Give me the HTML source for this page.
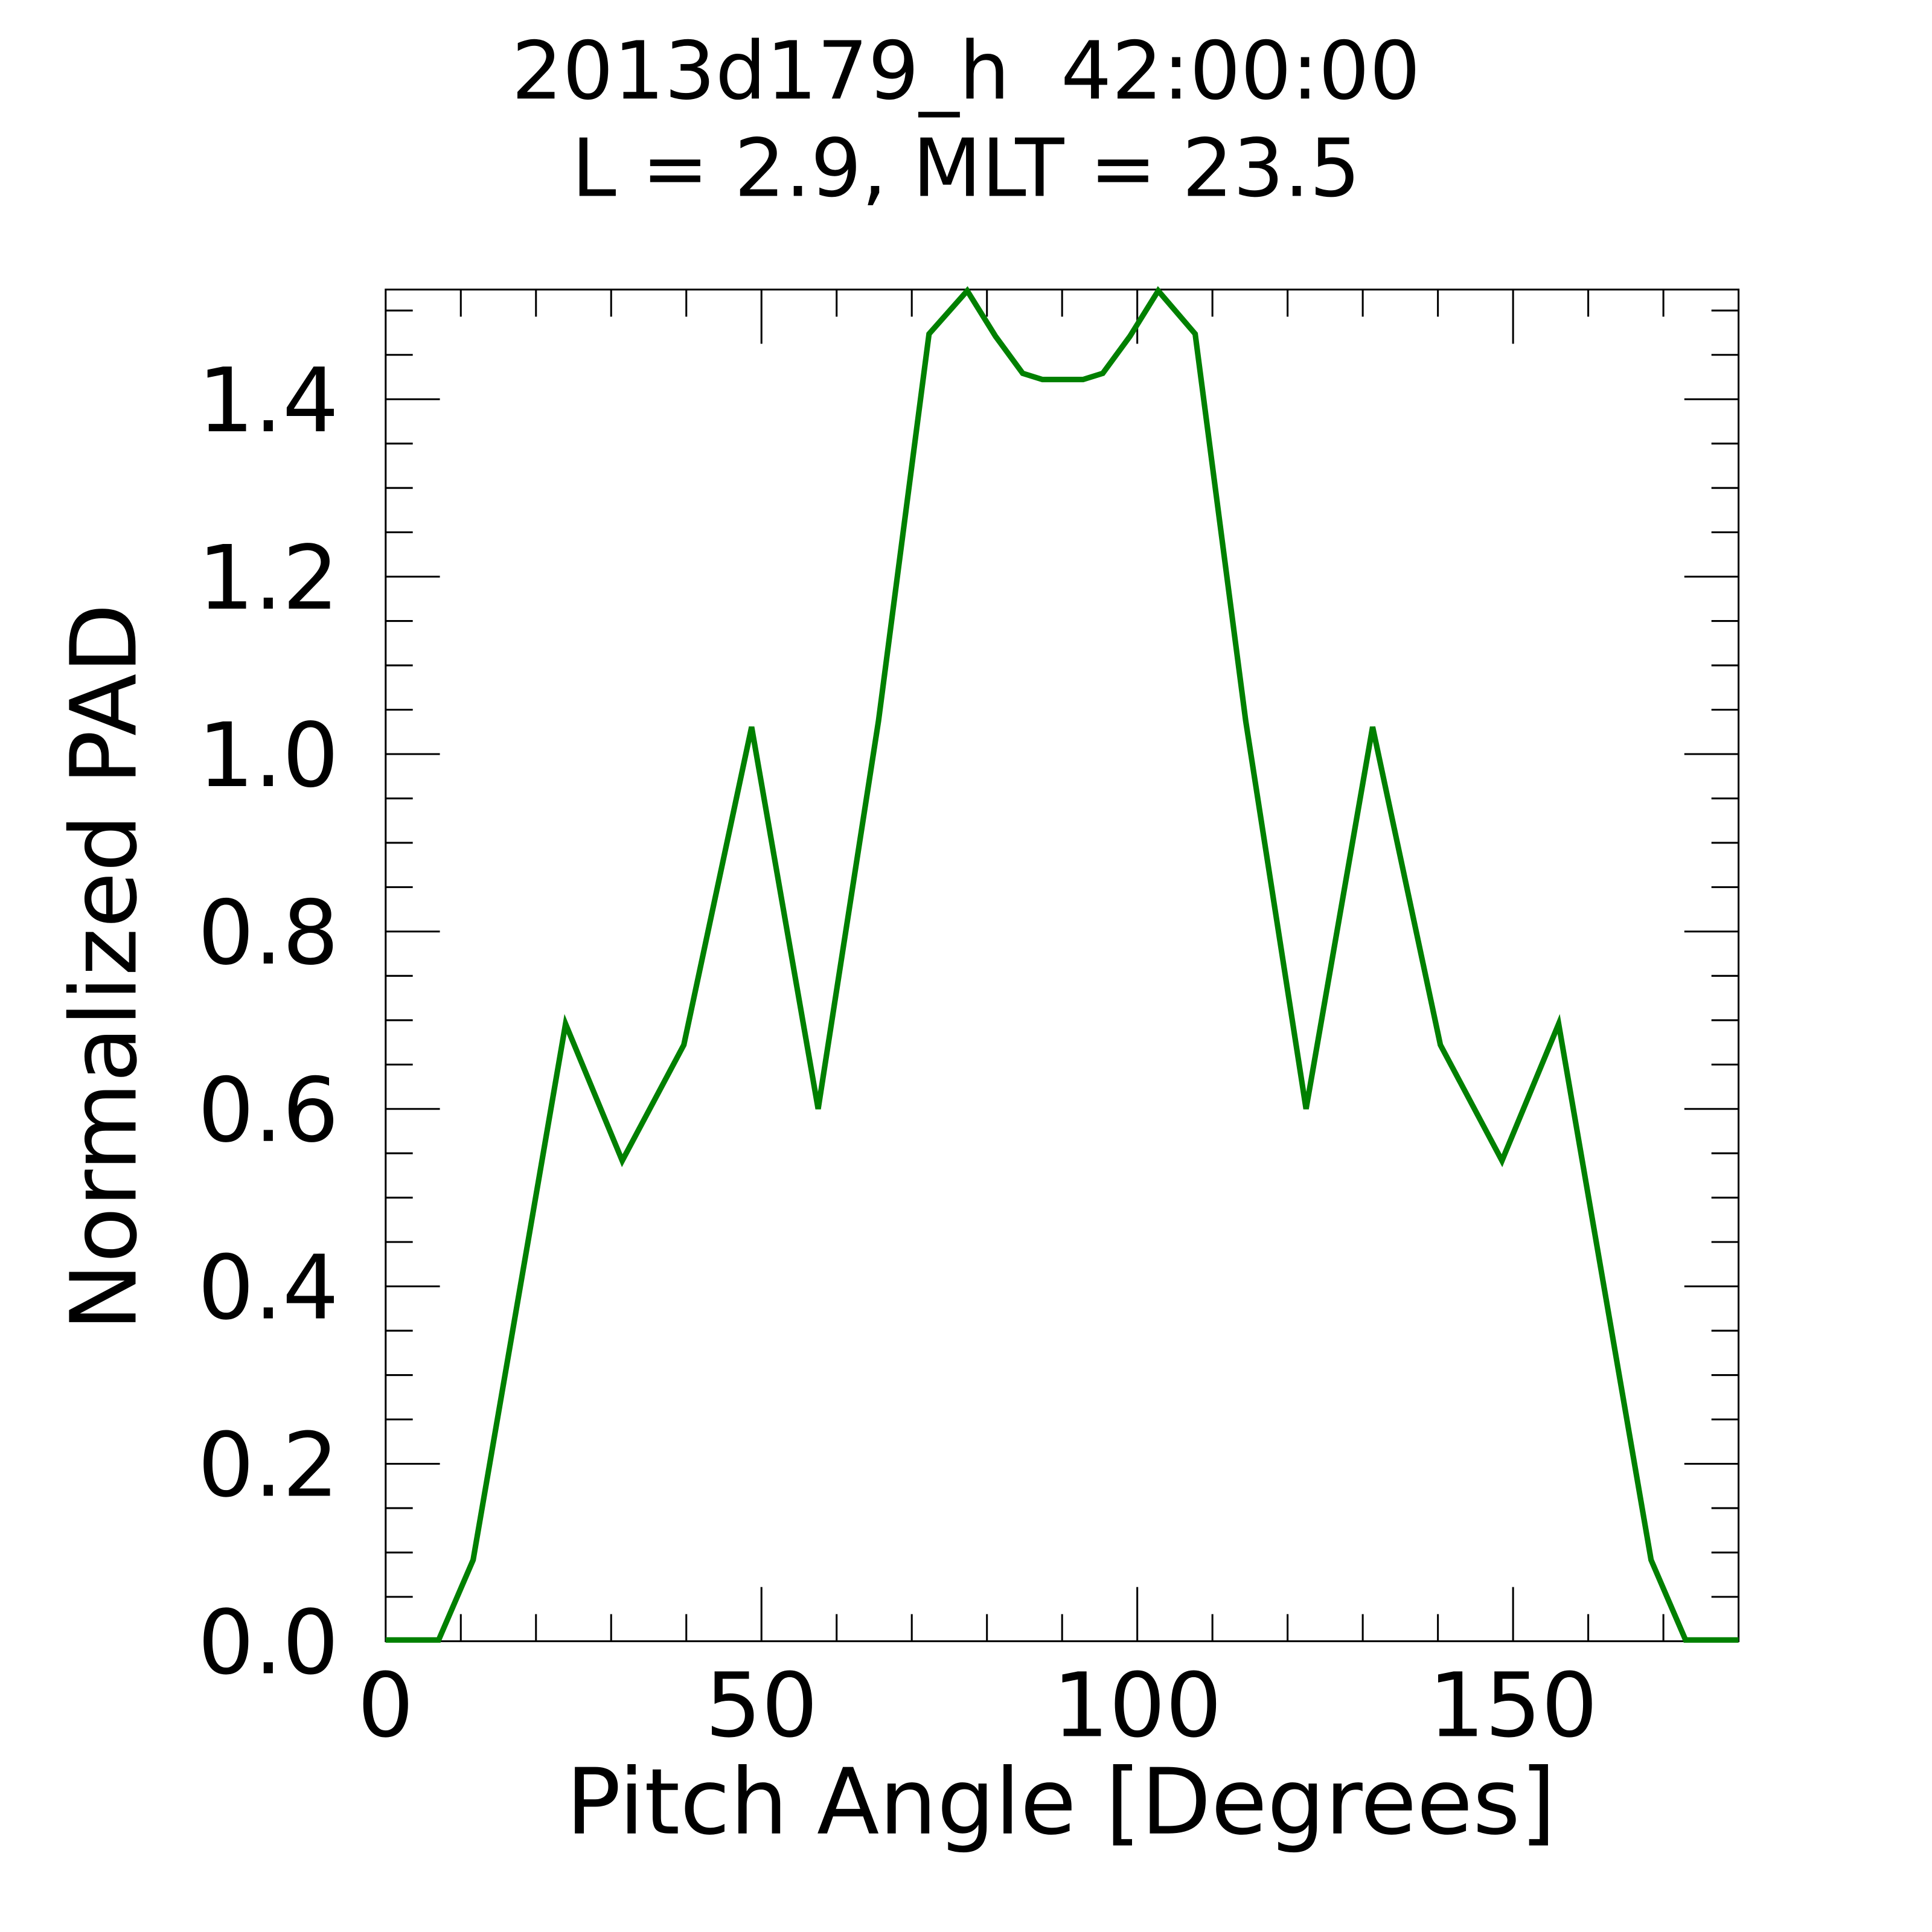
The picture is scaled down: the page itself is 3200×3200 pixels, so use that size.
<!DOCTYPE html>
<html><head><style>html,body{margin:0;padding:0;background:#fff}svg{display:block}</style></head>
<body>
<svg xmlns="http://www.w3.org/2000/svg" width="3200" height="3200" viewBox="0 0 1568 1568">
<rect width="1568" height="1568" fill="#fff"/>
<g font-family="DejaVu Sans, Liberation Sans, sans-serif" fill="#000">
<text x="784" y="80" font-size="65" text-anchor="middle">2013d179_h&#160;&#160;42:00:00</text>
<text x="784" y="159" font-size="65" text-anchor="middle">L = 2.9, MLT = 23.5</text>
<g font-size="72" text-anchor="end">
<text x="275" y="1358">0.0</text>
<text x="275" y="1214">0.2</text>
<text x="275" y="1070">0.4</text>
<text x="275" y="926">0.6</text>
<text x="275" y="782">0.8</text>
<text x="275" y="638">1.0</text>
<text x="275" y="494">1.2</text>
<text x="275" y="350">1.4</text>
</g>
<g font-size="72" text-anchor="middle">
<text x="313" y="1409">0</text>
<text x="618" y="1409">50</text>
<text x="923" y="1409">100</text>
<text x="1228" y="1409">150</text>
</g>
<text x="861" y="1488" font-size="74" text-anchor="middle">Pitch Angle [Degrees]</text>
<text transform="translate(110,785) rotate(-90)" font-size="74" text-anchor="middle">Normalized PAD</text>
</g>
<g stroke="#000" stroke-width="1.5" fill="none">
<rect x="313" y="235" width="1098" height="1097"/>
<path d="M374 1332v-22M435 1332v-22M496 1332v-22M557 1332v-22M679 1332v-22M740 1332v-22M801 1332v-22M862 1332v-22M984 1332v-22M1045 1332v-22M1106 1332v-22M1167 1332v-22M1289 1332v-22M1350 1332v-22
M618 1332v-44M923 1332v-44M1228 1332v-44
M374 235v22M435 235v22M496 235v22M557 235v22M679 235v22M740 235v22M801 235v22M862 235v22M984 235v22M1045 235v22M1106 235v22M1167 235v22M1289 235v22M1350 235v22
M618 235v44M923 235v44M1228 235v44"/>
<path d="M313 1296h22M313 1260h22M313 1224h22M313 1152h22M313 1116h22M313 1080h22M313 1008h22M313 972h22M313 936h22M313 864h22M313 828h22M313 792h22M313 720h22M313 684h22M313 648h22M313 576h22M313 540h22M313 504h22M313 432h22M313 396h22M313 360h22M313 288h22M313 252h22
M313 1188h44M313 1044h44M313 900h44M313 756h44M313 612h44M313 468h44M313 324h44
M1411 1296h-22M1411 1260h-22M1411 1224h-22M1411 1152h-22M1411 1116h-22M1411 1080h-22M1411 1008h-22M1411 972h-22M1411 936h-22M1411 864h-22M1411 828h-22M1411 792h-22M1411 720h-22M1411 684h-22M1411 648h-22M1411 576h-22M1411 540h-22M1411 504h-22M1411 432h-22M1411 396h-22M1411 360h-22M1411 288h-22M1411 252h-22
M1411 1188h-44M1411 1044h-44M1411 900h-44M1411 756h-44M1411 612h-44M1411 468h-44M1411 324h-44"/>
</g>
<polyline fill="none" stroke="#008000" stroke-width="4.5" stroke-linejoin="miter" points="313,1331 356,1331 384,1266 459,831 505,942 555,848 610,590 664,900 713,585 754,271 785,236 808,273 830,303 846,308 879,308 895,303 917,273 940,236 970,271 1011,585 1060,900 1114,590 1169,848 1219,942 1265,831 1340,1266 1368,1331 1411,1331"/>
</svg>
</body></html>
